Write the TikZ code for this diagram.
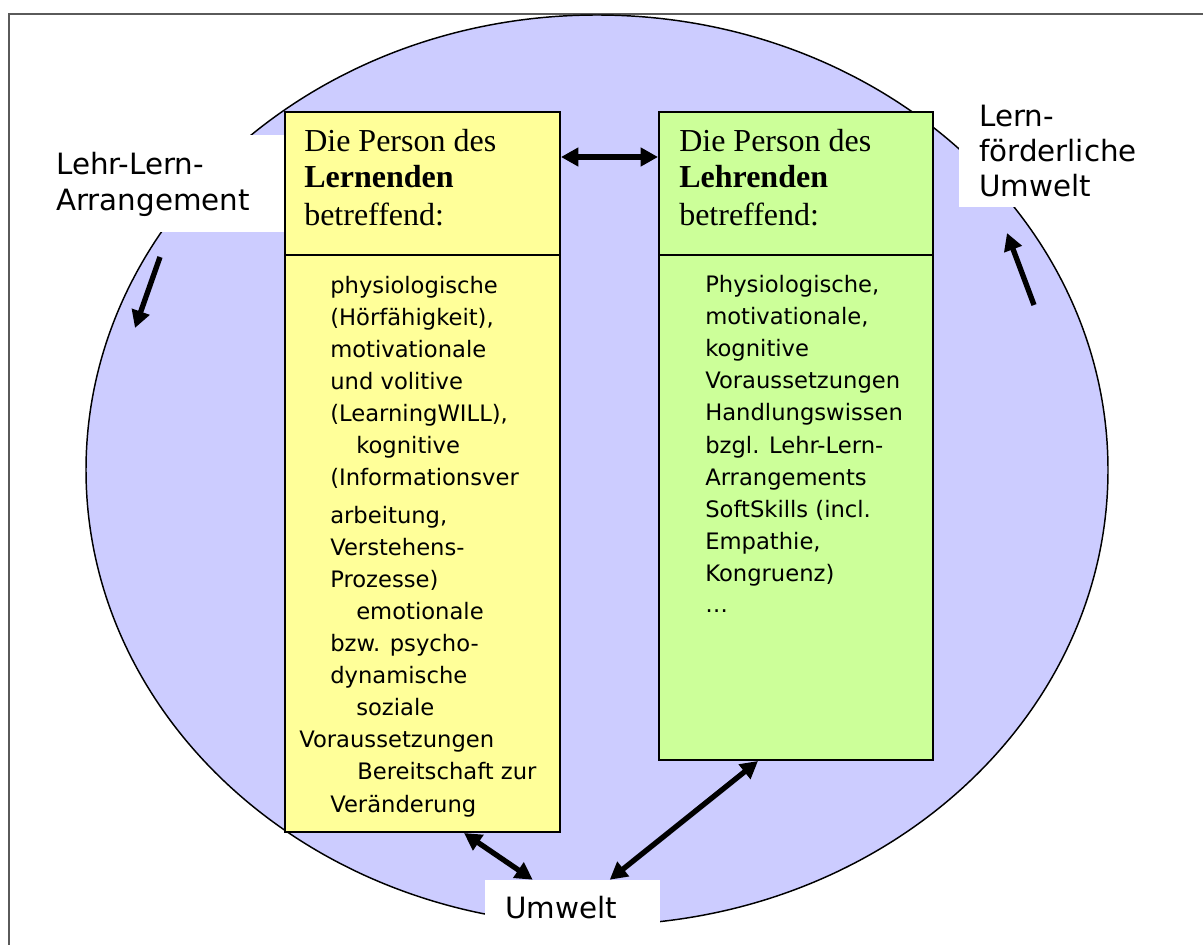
\documentclass[tikz,border=0pt]{standalone}
\usepackage{fontspec}
\setmainfont{Liberation Serif}
\newfontfamily\labelfont{DejaVu Sans}
\usetikzlibrary{arrows.meta,calc,shapes.geometric}
\definecolor{lilac}{HTML}{CCCCFF}
\definecolor{paleyellow}{HTML}{FFFF99}
\definecolor{palegreen}{HTML}{CCFF99}
\definecolor{framegray}{HTML}{5A5A5A}

\begin{document}
\begin{tikzpicture}[x=0.75pt,y=-0.75pt,
  box/.style={draw=black,line width=1.5pt,rectangle,inner sep=0pt},
  blank/.style={fill=white,rectangle,inner sep=0pt},
  head/.style={font=\fontsize{24}{28}\selectfont,anchor=base west,inner sep=0pt},
  body/.style={font=\labelfont\fontsize{17}{20}\selectfont,anchor=base west,inner sep=0pt},
  tag/.style={font=\labelfont\fontsize{22}{26}\selectfont,anchor=base west,inner sep=0pt},
  arr/.style={line width=4pt,-{Triangle[length=13pt,width=13.5pt]}},
  dblarr/.style={line width=4pt,{Triangle[length=13pt,width=13.5pt]}-{Triangle[length=13pt,width=13.5pt]}}]

\useasboundingbox (0,0) rectangle (1203,945);
\fill[white] (0,0) rectangle (1203,945);
\draw[framegray,line width=1.5pt] (9,945) -- (9,14) -- (1203,14);

% the surrounding field
\node[ellipse,draw=black,line width=1.1pt,fill=lilac,inner sep=0pt,
      minimum width=766.5pt,minimum height=682.5pt] (field) at (597,470) {};

% white label patches
\node[blank,minimum width=176.25pt,minimum height=72.75pt] (llbox) at (167.5,183.5) {};
\node[blank,minimum width=150.75pt,minimum height=80.25pt] (lfbox) at (1059.5,153.5) {};
\node[blank,minimum width=131.25pt,minimum height=48.75pt] (umweltbox) at (572.5,912.5) {};

% the two person boxes
\node[box,fill=paleyellow,minimum width=206.25pt,minimum height=540pt] (learner) at (422.5,472) {};
\node[box,fill=palegreen,minimum width=205.5pt,minimum height=486pt] (teacher) at (796,436) {};
\draw[line width=1.5pt] ($(learner.north west)+(0,144)$) -- ($(learner.north east)+(0,144)$);
\draw[line width=1.5pt] ($(teacher.north west)+(0,144)$) -- ($(teacher.north east)+(0,144)$);

% headers
\node[head] (lh1) at (304,152) {Die Person des};
\node[head] (lh2) at (304,188) {\textbf{Lernenden}};
\node[head] (lh3) at (304,225) {betreffend:};
\node[head] (th1) at (679,152) {Die Person des};
\node[head] (th2) at (679,188) {\textbf{Lehrenden}};
\node[head] (th3) at (679,225) {betreffend:};

% learner list
\foreach \px/\py/\txt [count=\i] in {
  330/293/physiologische,
  330/325/{(Hörfähigkeit),},
  330/357/motivationale,
  330/389/und volitive,
  330/421/{(LearningWILL),},
  356/453/kognitive,
  330/485/(Informationsver,
  330/523/{arbeitung,},
  330/555/Verstehens-,
  330/587/Prozesse),
  356/619/emotionale,
  330/651/bzw. psycho-,
  330/683/dynamische,
  356/715/soziale,
  299/747/Voraussetzungen,
  357/779/Bereitschaft zur,
  330/812/Veränderung}
  \node[body] (yl\i) at (\px,\py) {\txt};

% teacher list
\foreach \txt [count=\i] in {
  {Physiologische,},
  {motivationale,},
  kognitive,
  Voraussetzungen,
  Handlungswissen,
  bzgl. Lehr-Lern-,
  Arrangements,
  SoftSkills (incl.,
  {Empathie,},
  Kongruenz)}
  \node[body] (gl\i) at (705,{292+32.2*(\i-1)}) {\txt};
\node[body] (gl11) at (705,612) {\ldots};

% outer labels
\node[tag] (ll1) at (56,175) {Lehr-Lern-};
\node[tag] (ll2) at (56,210) {Arrangement};
\node[tag] (lf1) at (979,127) {Lern-};
\node[tag] (lf2) at (979,162) {förderliche};
\node[tag] (lf3) at (979,197) {Umwelt};
\node[tag] (umwelt) at (505,918) {Umwelt};

% connectors
\draw[dblarr] ($(learner.north east)+(0,46)$) -- ($(teacher.north west)+(0,46)$);
\draw[dblarr] ($(learner.south west)+(180,0)$) -- ($(umweltbox.north west)+(48,0)$);
\draw[dblarr] ($(umweltbox.north west)+(125,0)$) -- ($(teacher.south west)+(100,0)$);
\coordinate (llfrom) at (160,257);
\coordinate (llto) at (135,328);
\draw[arr] (llfrom) -- (llto);
\coordinate (lffrom) at (1034,305);
\coordinate (lfto) at (1007,233);
\draw[arr] (lffrom) -- (lfto);
\end{tikzpicture}
\end{document}
